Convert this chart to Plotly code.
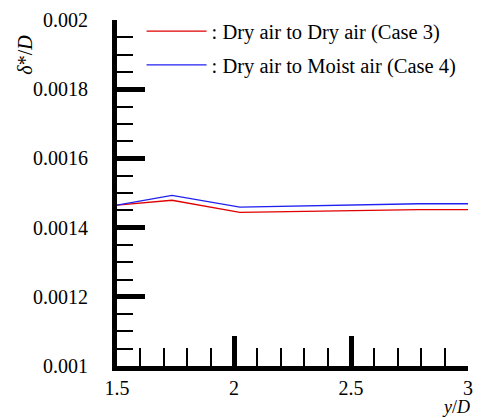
import plotly.graph_objects as go

x_case3 = [1.5, 1.735, 2.025, 2.79, 3.0]
y_case3 = [0.001465, 0.001479, 0.001444, 0.001452, 0.001452]
x_case4 = [1.5, 1.735, 2.025, 2.79, 3.0]
y_case4 = [0.001465, 0.001493, 0.001459, 0.001469, 0.001469]
names = [": Dry air to Dry air (Case 3)", ": Dry air to Moist air (Case 4)"]
x_ticks = [1.5, 2, 2.5, 3]
x_tick_labels = ["1.5", "2", "2.5", "3"]
y_ticks = [0.001, 0.0012, 0.0014, 0.0016, 0.0018, 0.002]
y_tick_labels = ["0.001", "0.0012", "0.0014", "0.0016", "0.0018", "0.002"]

FONT = "Liberation Serif"
TICKFONT = dict(family=FONT, size=20, color="black")

fig = go.Figure()
fig.add_trace(go.Scatter(x=x_case3, y=y_case3, mode="lines", name=names[0],
                         legendgroup="a",
                         line=dict(color="#e00000", width=1.3)))
fig.add_trace(go.Scatter(x=x_case4, y=y_case4, mode="lines", name=names[1],
                         legendgroup="b",
                         line=dict(color="#2020f0", width=1.3)))

fig.update_layout(
    width=482, height=418,
    margin=dict(l=117, r=9, t=16, b=52),
    plot_bgcolor="white", paper_bgcolor="white",
    font=dict(family=FONT, size=20, color="black"),
    showlegend=True,
    legend=dict(x=0.07, y=1.025, xanchor="left", yanchor="top",
                bgcolor="rgba(0,0,0,0)", font=dict(family=FONT, size=20.5),
                itemwidth=60, tracegroupgap=4),
    xaxis=dict(range=[1.5, 3], tickvals=x_ticks, ticktext=x_tick_labels,
               tickfont=TICKFONT, tickangle=0,
               ticks="inside", ticklen=30, tickwidth=5, tickcolor="black",
               showline=True, linewidth=5, linecolor="black",
               showgrid=False, zeroline=False,
               ticklabelstandoff=0,
               minor=dict(dtick=0.1, tick0=1.5, ticks="inside", ticklen=18,
                          tickwidth=2, tickcolor="black", showgrid=False)),
    yaxis=dict(range=[0.001, 0.002], tickvals=y_ticks, ticktext=y_tick_labels,
               tickfont=TICKFONT,
               ticks="inside", ticklen=28, tickwidth=5, tickcolor="black",
               showline=True, linewidth=5, linecolor="black",
               showgrid=False, zeroline=False,
               ticklabelstandoff=20,
               minor=dict(dtick=0.00005, tick0=0.001, ticks="inside", ticklen=16,
                          tickwidth=2, tickcolor="black", showgrid=False)),
    annotations=[
        dict(text="<i>δ</i>*/<i>D</i>", xref="paper", yref="paper",
             x=-0.262, y=0.9, xanchor="center", yanchor="middle",
             textangle=-90, showarrow=False,
             font=dict(family=FONT, size=20)),
        dict(text="<i>y</i>/<i>D</i>", xref="paper", yref="paper",
             x=1.01, y=-0.152, xanchor="right", yanchor="bottom", showarrow=False,
             font=dict(family=FONT, size=18)),
    ],
)

fig.write_html("out.html")
